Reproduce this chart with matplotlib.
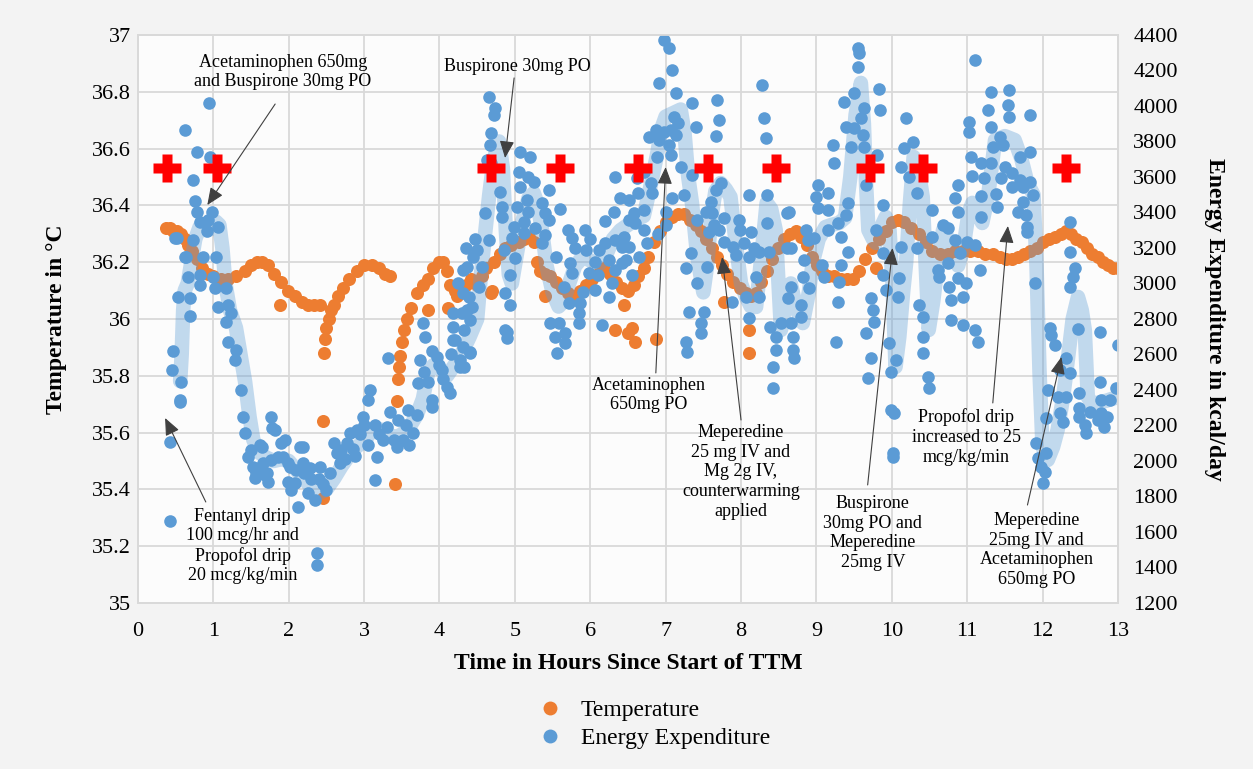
import matplotlib.pyplot as plt
from matplotlib.lines import Line2D
from matplotlib.ticker import FuncFormatter

plt.rcParams['font.family'] = ['Liberation Serif', 'DejaVu Serif']

# --- temperature (left axis, deg C) ---
temp_hours = [0.37, 0.42, 0.47, 0.52, 0.57, 0.62, 0.67, 0.72, 0.78, 0.85, 0.93, 1.0, 1.1, 1.2,
              1.3, 1.42, 1.5, 1.58, 1.65, 1.72, 1.81, 1.9, 1.99, 2.08, 2.17, 2.25, 2.33, 2.42, 1.88,
              2.45, 2.45, 2.47, 2.48, 2.5, 2.53, 2.56, 2.6, 2.65, 2.72, 2.8, 2.9, 3.0, 3.1, 3.2,
              3.28, 3.35,
              3.41, 3.43, 3.45, 3.46, 3.47, 3.5, 3.53, 3.57, 3.62, 3.7, 3.78, 3.85, 3.92, 4.0, 4.05,
              4.1, 4.14, 4.2, 3.85, 4.11, 4.23,
              4.28, 4.35, 4.42, 4.5, 4.56, 4.62, 4.7, 4.72, 4.8, 4.87, 4.95, 5.05, 5.12, 5.19, 5.25,
              5.3, 5.33, 5.4, 5.47, 5.55, 5.62, 5.7, 5.78, 5.86, 5.94, 6.02, 6.1, 6.18, 6.26, 6.34,
              6.42, 6.5, 6.58, 6.64, 6.71, 6.77, 6.84, 6.92, 7.0, 7.08, 7.16, 7.24, 7.32, 7.4, 7.47,
              7.54, 7.61, 7.68, 7.75, 7.82, 7.9, 7.98, 8.06, 8.13, 8.2, 8.27, 8.34, 8.41, 8.49, 8.57,
              8.65, 8.73, 8.8, 8.87, 8.94, 9.01, 9.08, 9.16, 9.24, 9.32, 9.4, 9.48, 9.56, 9.65, 9.74,
              9.83, 9.92, 10.0, 10.08, 10.16, 10.26, 10.36, 10.45, 10.54, 10.64, 10.74, 10.84, 10.94,
              11.04, 11.14, 11.24, 11.34, 11.44, 11.52, 11.6, 11.68, 11.76, 11.84, 11.92, 12.0,
              12.08, 12.16, 12.24, 12.31, 12.38, 12.45, 12.52, 12.59, 12.66, 12.73, 12.8, 12.87,
              12.94, 13.0,
              4.69, 5.4, 6.5, 6.55, 6.6, 6.87, 7.77, 8.1, 8.1, 9.79, 6.33, 6.45]
temp_c = [36.32, 36.32, 36.31, 36.31, 36.3, 36.28, 36.26, 36.24, 36.21, 36.18, 36.16, 36.15, 36.14,
          36.14, 36.15, 36.17, 36.19, 36.2, 36.2, 36.19, 36.16, 36.13, 36.1, 36.08, 36.06, 36.05,
          36.05, 36.05, 36.05,
          35.37, 35.64, 35.88, 35.93, 35.97, 36.0, 36.03, 36.05, 36.08, 36.11, 36.14, 36.17, 36.19,
          36.19, 36.18, 36.16, 36.15,
          35.42, 35.71, 35.79, 35.83, 35.87, 35.92, 35.96, 36.0, 36.04, 36.09, 36.12, 36.14, 36.18,
          36.2, 36.2, 36.17, 36.12, 36.1, 36.03, 36.04, 36.08,
          36.1, 36.12, 36.14, 36.12, 36.15, 36.18, 36.1, 36.2, 36.23, 36.25, 36.26, 36.27, 36.28,
          36.29, 36.27, 36.2, 36.17, 36.16, 36.15, 36.13, 36.11, 36.09, 36.08, 36.1, 36.12, 36.14,
          36.16, 36.18, 36.16, 36.13, 36.11, 36.1, 36.12, 36.15, 36.18, 36.22, 36.27, 36.31, 36.34,
          36.36, 36.37, 36.37, 36.35, 36.33, 36.31, 36.28, 36.25, 36.22, 36.19, 36.16, 36.13,
          36.11, 36.09, 36.08, 36.09, 36.13, 36.17, 36.21, 36.25, 36.28, 36.3, 36.31, 36.29,
          36.26, 36.22, 36.19, 36.17, 36.15, 36.15, 36.14, 36.14, 36.14, 36.17, 36.21, 36.25,
          36.28, 36.31, 36.34, 36.35, 36.34, 36.32, 36.3, 36.27, 36.24, 36.23, 36.23, 36.24,
          36.24, 36.24, 36.24, 36.23, 36.23, 36.22, 36.21, 36.21, 36.22, 36.23, 36.24, 36.25,
          36.27, 36.28, 36.29, 36.3, 36.31, 36.3, 36.28, 36.27, 36.25, 36.23, 36.22, 36.2, 36.19,
          36.18, 36.18,
          36.09, 36.08, 35.95, 35.97, 35.92, 35.93, 36.06, 35.96, 35.88, 36.18, 35.96, 36.05]

# --- energy expenditure (right axis, kcal/day) ---
ee_hours = [0.42, 0.42, 0.45, 0.46, 0.56, 0.57, 0.56, 0.69, 0.53, 0.69, 0.66, 0.82, 0.64, 0.49,
            0.73, 0.86, 1.03, 0.82, 1.0, 1.02, 1.17, 1.06, 1.19, 1.23, 1.17, 1.19, 1.3, 1.29,
            0.94, 0.62, 0.78, 0.95, 0.73, 0.76, 0.78, 0.98, 0.82, 0.93, 1.06, 0.91, 0.52, 0.62,
            1.37, 1.39, 1.42, 1.46, 1.53, 1.55, 1.62, 1.56, 1.68, 1.64, 1.66, 1.71, 1.76, 1.82,
            1.78, 1.9, 1.86, 1.76, 1.95, 1.92, 1.99, 2.02, 2.08, 2.12, 2.03, 1.99, 2.19, 2.19,
            2.25, 2.35, 2.41, 2.5, 2.37, 2.37, 2.15, 2.3, 2.45, 2.2, 1.5, 1.6, 1.72, 2.1, 2.28, 2.4,
            2.55, 2.64, 2.77, 2.81, 2.9, 2.98, 3.05, 3.08, 3.14, 3.14, 3.17, 3.25, 3.32, 3.34, 3.43,
            3.51, 3.58, 3.65, 3.71, 3.74, 3.78, 3.81, 3.85, 3.9, 3.9, 3.97, 4.03, 4.1, 4.14, 4.27,
            4.27, 4.31, 4.4, 4.36, 4.4, 2.6, 2.7, 2.75, 2.85, 2.95, 3.0, 3.05, 3.2, 3.3, 3.4, 3.45,
            3.55, 3.6, 3.7, 3.8, 3.9, 4.0, 4.05, 4.15, 4.2, 2.88, 2.68, 4.31, 4.31, 4.18, 4.18,
            4.18, 4.25, 4.35, 4.45,
            4.66, 4.73, 4.72, 4.69, 4.67, 4.63, 4.69, 5.07, 5.2, 5.05, 5.18, 5.25, 5.45, 5.07, 4.8,
            5.16, 5.36, 4.83, 5.03, 5.18, 5.4, 4.6, 4.83, 5.12, 5.45, 4.99, 5.27, 5.12, 5.4, 4.47,
            4.66, 4.96, 5.36, 5.76, 5.93, 4.5, 4.85, 5.0, 5.95, 6.11, 6.06, 5.73, 4.36, 4.56, 4.52,
            4.93, 5.76, 5.98, 6.33, 6.42, 4.39, 4.87, 6.06, 6.29, 6.25, 6.15, 4.3, 4.43, 4.33, 4.4,
            4.33, 4.93, 4.87, 4.89, 5.46, 5.58, 5.53, 5.66, 5.66, 5.56, 5.85, 5.85, 5.72, 5.86,
            6.33, 6.39, 6.31, 6.33, 6.42, 6.25, 4.89, 5.6, 5.7, 5.55, 5.8, 6.0, 6.2, 6.1, 5.9, 5.65,
            6.2,
            6.98, 7.04, 7.08, 6.91, 7.14, 7.35, 7.68, 7.71, 7.67, 8.28, 8.3, 8.33, 7.11, 7.17, 7.4,
            6.78, 6.87, 6.98, 7.07, 6.91, 7.14, 7.04, 6.88, 7.07, 7.21, 7.35, 6.71, 6.62, 6.51,
            6.64, 6.82, 7.08, 7.24, 6.71, 6.58, 7.0, 6.51, 6.6, 6.71, 6.45, 6.51, 6.47, 7.73, 7.67,
            7.6, 7.53, 7.41, 7.61, 7.77, 7.64, 7.57, 7.71, 7.97, 7.99, 8.13, 7.77, 7.9, 8.04, 8.17,
            7.93, 8.1, 8.24, 8.37, 7.55, 8.2, 8.06, 8.24, 7.88, 8.1, 7.27, 7.33, 7.41, 7.31, 7.47,
            7.51, 7.47, 7.27, 7.28, 8.39, 8.46, 8.53, 8.47, 8.43, 8.43, 8.1, 8.34, 8.34, 8.61, 8.61,
            6.8, 6.55, 6.65, 6.75, 6.9, 7.0,
            9.55, 9.56, 9.55, 9.5, 9.36, 9.83, 9.85, 9.63, 9.59, 9.39, 9.5, 9.62, 9.22, 9.46, 9.63,
            9.23, 9.81, 9.66, 10.19, 10.28, 10.16, 10.12, 10.23, 10.34, 9.02, 8.99, 9.16, 8.64,
            9.02, 9.15, 9.42, 9.88, 9.39, 9.28, 9.16, 8.86, 8.89, 8.97, 9.32, 9.79, 9.42, 9.88,
            10.12, 10.34, 10.54, 10.68, 10.54, 8.66, 8.83, 9.08, 9.1, 9.32, 8.82, 8.9, 8.66, 9.3,
            9.89, 9.92, 10.09, 10.08, 10.61, 10.62, 10.76, 8.79, 8.79, 8.62, 9.28, 9.72, 9.75,
            10.36, 10.41, 8.66, 8.69, 8.69, 8.7, 9.26, 9.66, 9.76, 9.72, 9.96, 10.05, 9.69, 9.99,
            9.99, 10.03, 10.01, 10.01, 10.42, 10.42, 10.48, 10.49,
            11.1, 11.31, 11.56, 11.54, 11.27, 11.56, 11.84, 11.31, 11.03, 11.03, 11.43, 11.47,
            11.34, 11.84, 11.7, 11.05, 11.18, 11.31, 11.5, 11.6, 11.07, 11.23, 11.45, 11.7, 11.83,
            10.88, 11.6, 11.74, 11.38, 11.18, 11.87, 10.84, 10.88, 11.74, 11.4, 11.67, 11.78, 11.18,
            11.8, 11.8, 10.74, 10.84, 11.0, 11.11, 10.9, 11.17, 10.74, 10.88, 10.98, 10.94, 10.78,
            10.78, 10.94, 11.11, 11.14, 11.9, 12.37, 12.37, 12.43, 12.4, 12.36, 12.1, 12.11, 12.16,
            12.47, 12.76, 13.0, 12.31, 12.36, 12.23, 12.07, 12.2, 12.31, 12.04, 12.23, 12.27, 11.91,
            12.04, 11.94, 11.98, 12.03, 12.0, 12.49, 12.76, 12.97, 12.77, 12.9, 12.63, 12.49, 12.77,
            12.56, 12.73, 12.86, 12.57, 12.49, 12.82]
ee_kcal = [1662, 2107, 2513, 2620, 2332, 2445, 2344, 2817, 2924, 2918, 3037, 2992, 3149, 3256,
           3245, 3149, 3149, 3048, 3037, 2975, 2975, 2868, 2879, 2834, 2783, 2670, 2625, 2569,
           4017, 3865, 3741, 3713, 3583, 3465, 3403, 3403, 3347, 3358, 3318, 3296, 3256, 3149,
           2400, 2248, 2158, 2023, 1966, 1904, 2090, 1932, 1921, 2079, 1989, 1932, 2248, 2175,
           2186, 2101, 2023, 2006, 2118, 2023, 1989, 1966, 1876, 1741, 1837, 1882, 2079, 1989,
           1820, 1780, 1966, 1837, 1482, 1414, 2079, 1900, 1870, 1930, 2060, 1960, 1880, 1950,
           1960, 1900,
           1932, 2045, 2101, 2158, 2175, 2248, 2344, 2400, 2203, 1893, 2023, 2118, 2580, 2276,
           2079, 2118, 2287, 2158, 2440, 2569, 2777, 2699, 2445, 2344, 2304, 2586, 2513, 2417,
           2383, 2569, 2530, 2642, 2794, 2851, 2608, 2100, 2060, 2010, 2070, 2150, 2200, 2090,
           2150, 2190, 2120, 2230, 2200, 2090, 2260, 2500, 2620, 2540, 2460, 2600, 2680, 2030,
           1990, 3076, 2947, 2834, 2755, 2682, 3000, 3200, 3150,
           4051, 3989, 3949, 3848, 3780, 3696, 3679, 3741, 3713, 3628, 3600, 3572, 3527, 3544,
           3516, 3471, 3454, 3431, 3431, 3403, 3397, 3397, 3375, 3347, 3358, 3318, 3313, 3285,
           3273, 3251, 3245, 3256, 3228, 3256, 3301, 3189, 3189, 3144, 3189, 3189, 3121, 3116,
           3093, 3093, 2980, 3048, 3059, 3059, 3076, 3116, 2924, 2947, 2963, 3003, 2924, 2766,
           2834, 2868, 2738, 2614, 2530, 2879, 2738, 2693, 2777, 2777, 2699, 2721, 2665, 2608,
           2834, 2777, 2890, 2890, 3600, 3482, 3403, 3245, 3206, 3133, 2727, 3420, 3300, 3150,
           3200, 3250, 3350, 3050, 2950, 2980, 3230,
           4372, 4327, 4203, 4130, 4073, 4017, 4034, 3921, 3831, 4118, 3932, 3820, 3938, 3904,
           3882, 3825, 3865, 3854, 3865, 3808, 3837, 3780, 3713, 3724, 3656, 3611, 3628, 3594,
           3471, 3510, 3510, 3482, 3499, 3414, 3397, 3403, 3358, 3341, 3301, 3262, 3206, 3133,
           3566, 3527, 3459, 3403, 3358, 3397, 3369, 3330, 3290, 3301, 3358, 3301, 3290, 3234,
           3206, 3228, 3200, 3160, 3149, 3178, 3178, 3093, 3037, 2924, 2924, 2896, 2806, 3087,
           3172, 3003, 2840, 2777, 2840, 2721, 2670, 2614, 2755, 2699, 2777, 2625, 2530, 2411,
           3499, 3499, 3341, 3397, 3200, 3566, 3050, 3150, 3230, 3280, 3330,
           4327, 4299, 4220, 4073, 4023, 4096, 3978, 3989, 3932, 3882, 3876, 3837, 3780, 3769,
           3769, 3679, 3724, 3555, 3932, 3797, 3763, 3656, 3600, 3510, 3555, 3488, 3510, 3403,
           3425, 3414, 3454, 3442, 3386, 3341, 3301, 3301, 3245, 3256, 3262, 3301, 3178, 3172,
           3206, 3200, 3262, 3330, 3414, 3200, 3133, 3104, 3037, 3104, 3037, 2975, 2980, 3009,
           3048, 2963, 3031, 2924, 3076, 3037, 2980, 2879, 2811, 2918, 2896, 2918, 2851, 2879,
           2811, 2777, 2699, 2625, 2580, 2670, 2721, 2783, 2580, 2665, 2569, 2468, 2502, 2287,
           2270, 2045, 2023, 2699, 2608, 2473, 2411,
           4259, 4079, 4090, 4006, 3978, 3938, 3949, 3882, 3910, 3854, 3825, 3780, 3769, 3741,
           3713, 3713, 3679, 3679, 3656, 3622, 3606, 3594, 3594, 3583, 3572, 3555, 3544, 3544,
           3505, 3493, 3499, 3482, 3403, 3459, 3431, 3403, 3386, 3375, 3318, 3290, 3313, 3245,
           3234, 3217, 3172, 3076, 3116, 3031, 3003, 2924, 2907, 2794, 2766, 2738, 2670, 3003,
           3347, 3178, 3087, 3037, 2980, 2749, 2710, 2654, 2744, 2727, 2654, 2580, 2496, 2513,
           2400, 2361, 2361, 2242, 2270, 2220, 2101, 2045, 2017, 1966, 1938, 1876, 2383, 2445,
           2411, 2344, 2344, 2276, 2248, 2270, 2203, 2231, 2248, 2158, 2299, 2192]

# --- smoothed energy expenditure trace ---
trend_hours = [0.56, 0.58, 0.6, 0.62, 0.66, 0.7, 0.76, 0.82, 0.9, 0.97, 1.03, 1.08, 1.12, 1.16,
               1.22, 1.3, 1.36, 1.42, 1.48, 1.53, 1.6, 1.7, 1.8, 1.9, 2.0, 2.1, 2.2, 2.3, 2.4, 2.5,
               2.6, 2.7, 2.8, 2.9, 3.0, 3.1, 3.2, 3.3, 3.4, 3.5, 3.6, 3.7, 3.78, 3.85, 3.92, 4.0,
               4.1, 4.2, 4.3, 4.4, 4.5, 4.55, 4.6, 4.66, 4.72, 4.79, 4.84, 4.88, 4.92, 4.96, 5.02,
               5.1, 5.18, 5.25, 5.3, 5.36, 5.42, 5.5, 5.58, 5.65, 5.72, 5.8, 5.9, 6.0, 6.1, 6.2,
               6.3, 6.4, 6.5, 6.6, 6.71, 6.8, 6.88, 6.95, 7.0, 7.1, 7.2, 7.25, 7.3, 7.35, 7.42, 7.5,
               7.55, 7.6, 7.66, 7.73, 7.8, 7.86, 7.93, 8.0, 8.06, 8.13, 8.2, 8.27, 8.34, 8.4, 8.46,
               8.53, 8.6, 8.66, 8.74, 8.82, 8.9, 8.95, 9.03, 9.12, 9.2, 9.3, 9.38, 9.45, 9.52, 9.59,
               9.63, 9.66, 9.69, 9.75, 9.79, 9.86, 9.92, 9.97, 10.01, 10.05, 10.1, 10.15, 10.19,
               10.24, 10.29, 10.35, 10.41, 10.45, 10.49, 10.55, 10.62, 10.68, 10.75, 10.82, 10.88,
               10.95, 11.02, 11.07, 11.13, 11.2, 11.28, 11.37, 11.5, 11.63, 11.72, 11.8, 11.88,
               11.92, 11.96, 12.0, 12.07, 12.14, 12.2, 12.27, 12.33, 12.4, 12.47, 12.52, 12.56,
               12.6, 12.66, 12.73, 12.85, 13.0]
trend_kcal = [2450, 2600, 2850, 2960, 3000, 3100, 3250, 3320, 3300, 3310, 3350, 3330, 3200, 3000,
              2850, 2750, 2600, 2450, 2250, 2120, 2050, 2020, 2000, 2010, 2000, 1950, 1900, 1850,
              1820, 1840, 1900, 1970, 2030, 2080, 2110, 2170, 2180, 2160, 2130, 2150, 2190, 2260,
              2350, 2500, 2540, 2520, 2480, 2540, 2610, 2700, 2800, 3050, 3260, 3500, 3700, 3800,
              3650, 3300, 3050, 3000, 3150, 3350, 3480, 3510, 3450, 3300, 3100, 2950, 2870, 2900,
              3000, 3100, 3150, 3130, 3100, 3150, 3250, 3300, 3330, 3360, 3380, 3550, 3713, 3880,
              3940, 3960, 3980, 3850, 3600, 3450, 3150, 2950, 3100, 3350, 3520, 3566, 3530, 3488,
              3228, 3000, 2930, 2870, 2868, 3150, 3454, 3420, 3301, 2738, 2900, 3000, 2850, 2777,
              2950, 3116, 3250, 3318, 3330, 3341, 3370, 3600, 3950, 4130, 3900, 3550, 3301, 3250,
              3228, 3320, 3375, 3300, 3000, 2530, 2700, 2950, 3116, 3450, 3713, 3650, 3488, 3100,
              2738, 2900, 3150, 3301, 3250, 3150, 3100, 3200, 3400, 3454, 3400, 3341, 3500, 3808,
              3830, 3808, 3700, 3566, 3500, 3100, 2500, 2079, 2006, 2080, 2175, 2350, 2552, 2800,
              2924, 2850, 2738, 2361, 2320, 2327, 2340, 2361]

# red crosses on the energy axis
cross_hours = [0.38, 1.05, 4.68, 5.6, 6.64, 7.56, 8.47, 9.71, 10.42, 12.31]
cross_kcal = 3650

# annotation text, text position, arrow tail, arrow tip (hours, kcal/day)
notes = [
    ('Acetaminophen 650mg\nand Buspirone 30mg PO', (1.92, 4192), (1.82, 4011), (0.92, 3442)),
    ('Buspirone 30mg PO', (5.03, 4220), (4.99, 4158), (4.87, 3707)),
    ('Fentanyl drip\n100 mcg/hr and\nPropofol drip\n20 mcg/kg/min', (1.39, 1521), (0.9, 1769),
     (0.36, 2242)),
    ('Acetaminophen\n650mg PO', (6.78, 2372), (6.87, 2496), (7.0, 3656)),
    ('Meperedine\n25 mg IV and\nMg 2g IV,\ncounterwarming\napplied', (8.0, 1938), (8.0, 2231),
     (7.75, 3149)),
    ('Buspirone\n30mg PO and\nMeperedine\n25mg IV', (9.75, 1594), (9.68, 1865), (10.01, 3200)),
    ('Propofol drip\nincreased to 25\nmcg/kg/min', (10.99, 2135), (11.34, 2327), (11.54, 3324)),
    ('Meperedine\n25mg IV and\nAcetaminophen\n650mg PO', (11.92, 1499), (11.8, 1752),
     (12.25, 2586)),
]

orange = '#ED7D31'
blue = '#5B9BD5'
grid_c = '#d9d9d9'

fig = plt.figure(figsize=(12.53, 7.69), dpi=100, facecolor='#f3f3f3')
ax = fig.add_axes([0.1101, 0.2159, 0.7821, 0.7386])
ax.set_facecolor('#fcfcfc')
ax2 = ax.twinx()

ax.set_xlim(0, 13)
ax.set_ylim(35, 37)
ax2.set_ylim(1200, 4400)
ax.set_xticks(range(0, 14))
ax.set_yticks([35 + 0.2 * i for i in range(11)])
ax2.set_yticks(range(1200, 4401, 200))
ax.yaxis.set_major_formatter(FuncFormatter(lambda v, p: '{:g}'.format(round(v, 1))))

ax.grid(True, color=grid_c, lw=1.3)
ax.set_axisbelow(True)
for a in (ax, ax2):
    for s in a.spines.values():
        s.set_color(grid_c)
        s.set_linewidth(1.3)
ax.tick_params(axis='both', length=0, labelsize=16)
ax.tick_params(axis='x', pad=14)
ax.tick_params(axis='y', pad=5)
ax2.tick_params(axis='y', length=0, labelsize=16, pad=11)

ax.scatter(temp_hours, temp_c, s=88, color=orange, linewidths=0, zorder=2)
ax2.plot(trend_hours, trend_kcal, color=blue, alpha=0.36, lw=10.5, solid_capstyle='round',
         solid_joinstyle='round', zorder=1)
ax2.scatter(ee_hours, ee_kcal, s=82, color=blue, linewidths=0, zorder=2)
ax2.plot(cross_hours, [cross_kcal] * len(cross_hours), ls='none', marker='P', ms=20,
         color='#ff0000', mec='none', zorder=3)

for text, pos, tail, tip in notes:
    ax2.text(pos[0], pos[1], text, ha='center', va='center', fontsize=13, zorder=4)
    ax2.annotate('', xy=tip, xytext=tail,
                 arrowprops=dict(arrowstyle='-|>,head_length=0.7,head_width=0.3',
                                 mutation_scale=15, color='#404040', lw=0.8,
                                 shrinkA=0, shrinkB=0), zorder=4)

ax.set_xlabel('Time in Hours Since Start of TTM', fontsize=17, fontweight='bold', labelpad=8)
ax.set_ylabel('Temperature in \u00b0C', fontsize=17, fontweight='bold', labelpad=18)
ax2.set_ylabel('Energy Expenditure in kcal/day', fontsize=17, fontweight='bold',
               rotation=270, labelpad=34)

handles = [Line2D([], [], ls='none', marker='o', ms=10, color=orange, mec='none',
                  label='Temperature'),
           Line2D([], [], ls='none', marker='o', ms=10, color=blue, mec='none',
                  label='Energy Expenditure')]
fig.legend(handles=handles, loc='center', bbox_to_anchor=(0.522, 0.058), frameon=False,
           fontsize=17, handlelength=1, handletextpad=0.8, labelspacing=0.25)

fig.savefig('out.png', dpi=100, facecolor=fig.get_facecolor())
